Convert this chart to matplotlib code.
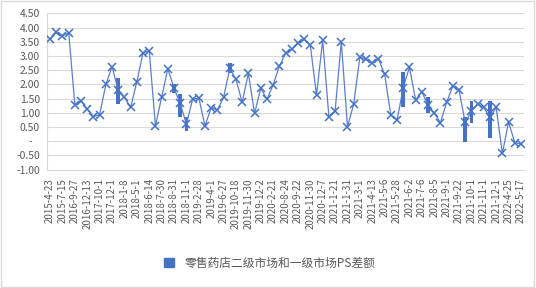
import matplotlib
matplotlib.use('Agg')
import matplotlib.pyplot as plt
from matplotlib.patches import Patch, Rectangle
import numpy as np

plt.rcParams['font.family'] = ['Noto Sans CJK SC', 'DejaVu Sans']

# every other category label is shown on the axis (Excel style)
date_labels = ['2015-4-23', '2015-7-15', '2016-9-27', '2016-12-13', '2017-10-1', '2017-12-1',
               '2018-1-8', '2018-5-1', '2018-6-14', '2018-7-30', '2018-8-31', '2018-11-1',
               '2019-2-28', '2019-4-1', '2019-6-27', '2019-10-18', '2019-11-30', '2019-12-2',
               '2020-2-21', '2020-8-24', '2020-9-22', '2020-11-30', '2020-12-7', '2021-1-21',
               '2021-1-31', '2021-3-1', '2021-4-13', '2021-5-6', '2021-5-28', '2021-6-2',
               '2021-7-6', '2021-8-5', '2021-9-1', '2021-9-22', '2021-10-1', '2021-11-1',
               '2021-12-1', '2022-4-25', '2022-5-17']

ps_gap = [3.58, 3.83, 3.71, 3.82, 1.27, 1.41, 1.13, 0.86, 0.94, 2.00,
          2.62, 1.80, 1.55, 1.19, 2.09, 3.11, 3.18, 0.54, 1.55, 2.55,
          1.87, 1.33, 0.60, 1.47, 1.53, 0.54, 1.18, 1.10, 1.54, 2.56,
          2.18, 1.37, 2.39, 0.98, 1.86, 1.48, 1.98, 2.64, 3.09, 3.23,
          3.46, 3.58, 3.38, 1.62, 3.56, 0.86, 1.06, 3.50, 0.51, 1.30,
          2.97, 2.88, 2.74, 2.90, 2.35, 0.92, 0.74, 1.89, 2.60, 1.45,
          1.74, 1.27, 1.00, 0.65, 1.37, 1.94, 1.80, 0.66, 1.06, 1.31,
          1.19, 0.84, 1.19, -0.43, 0.68, -0.05, -0.10]

bar_idx = [11, 20, 21, 22, 29, 57, 61, 67, 68, 71]
bar_low = [1.31, 1.70, 0.84, 0.37, 2.39, 1.19, 1.01, -0.02, 0.63, 0.13]
bar_high = [2.21, 2.00, 1.66, 0.84, 2.74, 2.44, 1.56, 0.86, 1.42, 1.42]

legend_label = '零售药店二级市场和一级市场PS差额'

blue = '#4472C4'
grey = '#595959'
grid = '#d9d9d9'

fig = plt.figure(figsize=(5.36, 2.88), dpi=100)
ax = fig.add_axes([0.0877, 0.4108, 0.890, 0.543])

x = np.arange(len(ps_gap))
ax.bar(bar_idx, np.array(bar_high) - np.array(bar_low), bottom=bar_low,
       width=0.6, color=blue, zorder=2)
ax.plot(x, ps_gap, color='#5b7fc9', lw=0.9, marker='x', markersize=6,
        markeredgewidth=1.1, markeredgecolor=blue, zorder=3)

ax.set_xlim(-0.5, len(ps_gap) - 0.5)
ax.set_ylim(-1.0, 4.5)
yt = np.arange(-1.0, 4.51, 0.5)
ax.set_yticks(yt)
ax.set_yticklabels(['-   ' if abs(v) < 1e-9 else f'{v:.2f}' for v in yt])
ax.set_xticks(x[::2])
ax.set_xticklabels(date_labels, rotation=90, va='top', ha='center')

ax.tick_params(axis='y', length=0, pad=5, labelsize=7.5, labelcolor=grey)
ax.tick_params(axis='x', length=0, pad=6, labelsize=7, labelcolor=grey)
ax.grid(axis='y', color=grid, lw=0.8, zorder=0)
ax.set_axisbelow(True)
for s in ['top', 'right']:
    ax.spines[s].set_visible(False)
ax.spines['left'].set_color(grid)
ax.spines['bottom'].set_color(grid)

fig.legend(handles=[Patch(color=blue)], labels=[legend_label], loc='center',
           bbox_to_anchor=(270 / 536, 1 - 263 / 288), frameon=False,
           fontsize=8.5, handlelength=0.85, handleheight=0.85,
           labelcolor=grey, handletextpad=0.9)

fig.patches.append(Rectangle((0.002, 0.003), 0.995, 0.994, transform=fig.transFigure,
                             fill=False, edgecolor=grid, lw=1))

plt.savefig('out.png', dpi=100)
